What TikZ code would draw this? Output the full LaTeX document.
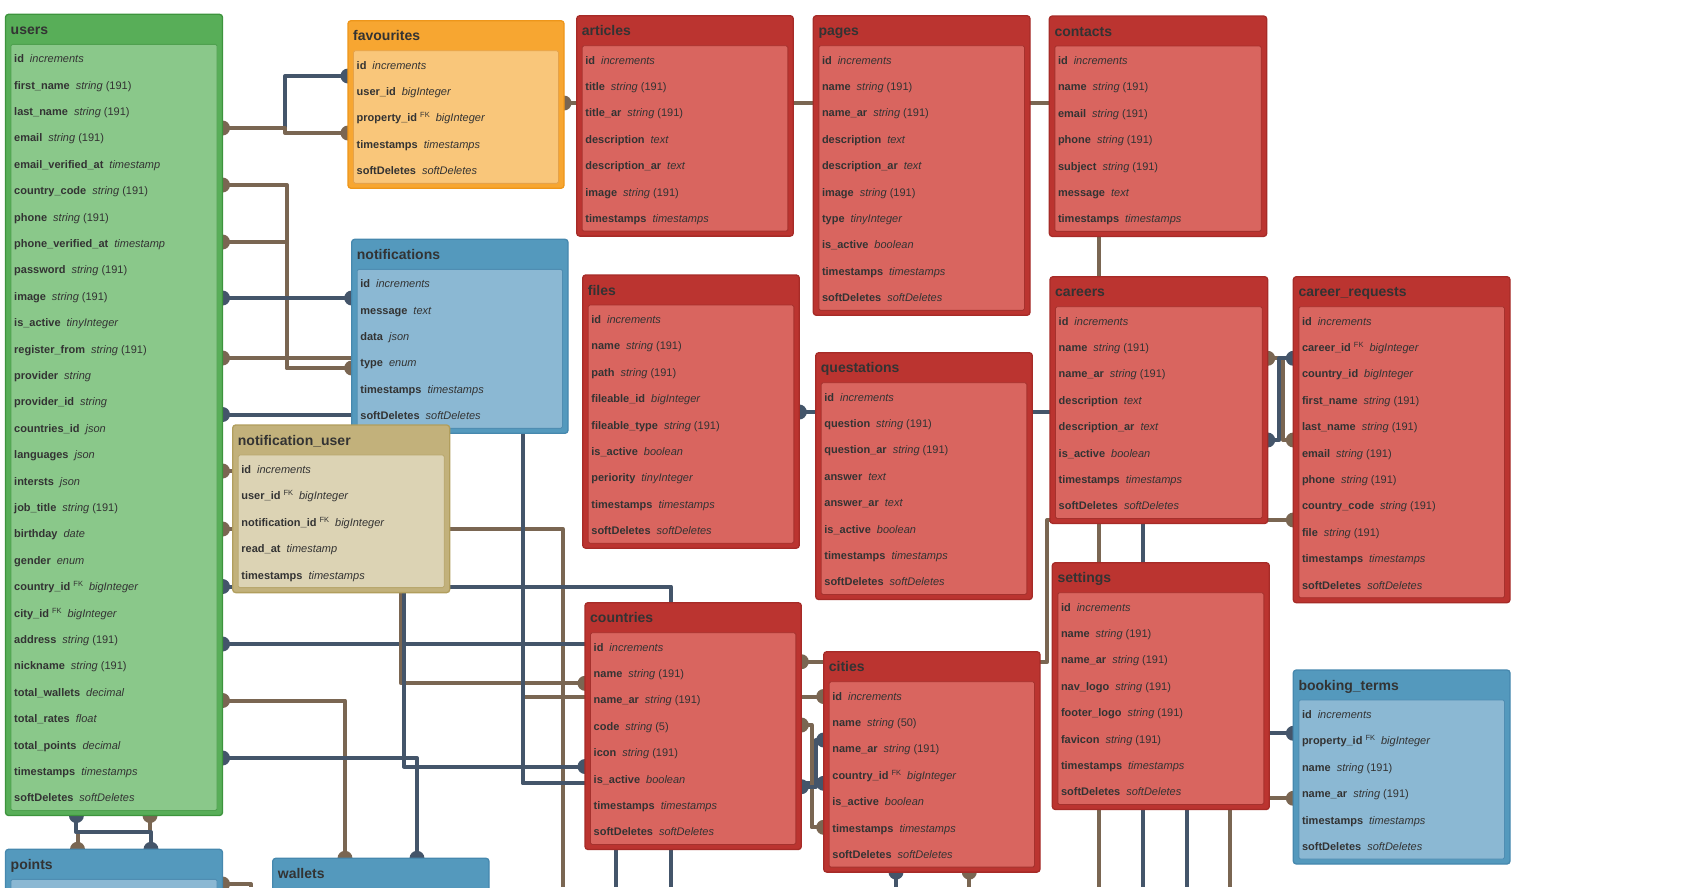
\documentclass[tikz,border=0pt]{standalone}
\usepackage{fontspec}
\setmainfont{Liberation Sans}
\definecolor{txt}{HTML}{333333}
\definecolor{brn}{HTML}{7A6652}
\definecolor{slt}{HTML}{44556A}
\definecolor{grnH}{HTML}{58AE58}\definecolor{grnB}{HTML}{3D943D}\definecolor{grnI}{HTML}{8AC88A}\definecolor{grnIB}{HTML}{4FA04F}
\definecolor{orgH}{HTML}{F7A631}\definecolor{orgB}{HTML}{EE961A}\definecolor{orgI}{HTML}{F9C67A}\definecolor{orgIB}{HTML}{E5A24A}
\definecolor{redH}{HTML}{BB3430}\definecolor{redB}{HTML}{A62B27}\definecolor{redI}{HTML}{D9655F}\definecolor{redIB}{HTML}{A5312D}
\definecolor{bluH}{HTML}{5499BD}\definecolor{bluB}{HTML}{4688AE}\definecolor{bluI}{HTML}{8BB8D3}\definecolor{bluIB}{HTML}{4F8DB2}
\definecolor{tanH}{HTML}{C2B17B}\definecolor{tanB}{HTML}{B19E5D}\definecolor{tanI}{HTML}{DCD3B4}\definecolor{tanIB}{HTML}{B8A76D}
\pgfdeclarelayer{back}
\pgfdeclarelayer{bg}
\pgfsetlayers{back,bg,main}
\tikzset{
  tbox/.style={draw=#1B, fill=#1H, line width=1.3pt, rounded corners=3pt, anchor=north west, inner sep=0pt, outer sep=0pt},
  ibox/.style={draw=#1IB, fill=#1I, line width=0.9pt, rounded corners=1.5pt, anchor=north west, inner sep=0pt, outer sep=0pt},
  ttl/.style={font=\fontsize{14}{16}\selectfont\bfseries, text=txt, inner sep=0pt, anchor=base west},
  fld/.style={font=\fontsize{11}{13}\selectfont, text=txt, inner sep=0pt, anchor=base west},
  brl/.style={draw=brn, line width=4pt, line join=round},
  sll/.style={draw=slt, line width=4pt, line join=round},
}
\newcommand{\fl}[3]{\textbf{#1}\hspace{6pt}\textit{#2}#3}
\newcommand{\fs}[1]{\textbf{#1}\hspace{6pt}\textit{string} (191)}
\newcommand{\fk}[2]{\textbf{#1}\hspace{3pt}\raisebox{4pt}{\fontsize{7.5}{8}\selectfont FK}\hspace{6pt}\textit{#2}}
\newcommand{\bdot}[1]{\fill[brn] #1 circle (7.5pt);}
\newcommand{\sdot}[1]{\fill[slt] #1 circle (7.5pt);}
\newcommand{\ertbl}[8]{%
  \pgfmathsetmacro{\tH}{62+(#6-1)*26.4}%
  \pgfmathsetmacro{\iH}{\tH-35}%
  \pgfmathsetmacro{\iW}{#5-11}%
  \node[tbox=#2, minimum width=#5pt, minimum height=\tH pt] (#1) at (#3,#4) {};
  \node[ibox=#2, minimum width=\iW pt, minimum height=\iH pt] (#1-in) at ({#3+5.5},{#4+30}) {};
  \node[ttl] (#1-title) at ({#3+5},{#4+20}) {#7};
  \foreach \t [count=\i] in {#8} {
    \node[fld] (#1-r\i) at ({#3+8.5},{#4+48.4+(\i-1)*26.4}) {\t};
  }%
}
\newcommand{\ertblh}[6]{%
  \node[tbox=#2, minimum width=#5pt, minimum height=80pt] (#1) at (#3,#4) {};
  \node[ibox=#2, minimum width=#5pt-11pt, minimum height=60pt] (#1-in) at ({#3+5.5},{#4+30}) {};
  \node[ttl] (#1-title) at ({#3+5},{#4+20}) {#6};
}
\begin{document}
\begin{tikzpicture}[x=1pt,y=-1pt]
\useasboundingbox (0,0) rectangle (1687,887);
\begin{pgfonlayer}{back}
\fill[white] (0,0) rectangle (1687,887);
\end{pgfonlayer}

% ---------------- tables ----------------
\ertbl{users}{grn}{5.5}{14.3}{217}{29}{users}{
 {\fl{id}{increments}{}},{\fs{first\_name}},{\fs{last\_name}},{\fs{email}},
 {\fl{email\_verified\_at}{timestamp}{}},{\fs{country\_code}},{\fs{phone}},
 {\fl{phone\_verified\_at}{timestamp}{}},{\fs{password}},{\fs{image}},
 {\fl{is\_active}{tinyInteger}{}},{\fs{register\_from}},{\fl{provider}{string}{}},
 {\fl{provider\_id}{string}{}},{\fl{countries\_id}{json}{}},{\fl{languages}{json}{}},
 {\fl{intersts}{json}{}},{\fs{job\_title}},{\fl{birthday}{date}{}},{\fl{gender}{enum}{}},
 {\fk{country\_id}{bigInteger}},{\fk{city\_id}{bigInteger}},{\fs{address}},{\fs{nickname}},
 {\fl{total\_wallets}{decimal}{}},{\fl{total\_rates}{float}{}},{\fl{total\_points}{decimal}{}},
 {\fl{timestamps}{timestamps}{}},{\fl{softDeletes}{softDeletes}{}}}
\ertbl{favourites}{org}{348}{20.7}{216}{5}{favourites}{
 {\fl{id}{increments}{}},{\fl{user\_id}{bigInteger}{}},{\fk{property\_id}{bigInteger}},
 {\fl{timestamps}{timestamps}{}},{\fl{softDeletes}{softDeletes}{}}}
\ertbl{articles}{red}{576.7}{15.7}{216.6}{7}{articles}{
 {\fl{id}{increments}{}},{\fs{title}},{\fs{title\_ar}},{\fl{description}{text}{}},
 {\fl{description\_ar}{text}{}},{\fs{image}},{\fl{timestamps}{timestamps}{}}}
\ertbl{pages}{red}{813.3}{15.7}{216.7}{10}{pages}{
 {\fl{id}{increments}{}},{\fs{name}},{\fs{name\_ar}},{\fl{description}{text}{}},
 {\fl{description\_ar}{text}{}},{\fs{image}},{\fl{type}{tinyInteger}{}},{\fl{is\_active}{boolean}{}},
 {\fl{timestamps}{timestamps}{}},{\fl{softDeletes}{softDeletes}{}}}
\ertbl{contacts}{red}{1049.3}{16}{217.4}{7}{contacts}{
 {\fl{id}{increments}{}},{\fs{name}},{\fs{email}},{\fs{phone}},{\fs{subject}},
 {\fl{message}{text}{}},{\fl{timestamps}{timestamps}{}}}
\ertbl{notifications}{blu}{351.7}{239.3}{216.3}{6}{notifications}{
 {\fl{id}{increments}{}},{\fl{message}{text}{}},{\fl{data}{json}{}},{\fl{type}{enum}{}},
 {\fl{timestamps}{timestamps}{}},{\fl{softDeletes}{softDeletes}{}}}
\ertbl{files}{red}{582.7}{275}{216.6}{9}{files}{
 {\fl{id}{increments}{}},{\fs{name}},{\fs{path}},{\fl{fileable\_id}{bigInteger}{}},
 {\fs{fileable\_type}},{\fl{is\_active}{boolean}{}},{\fl{periority}{tinyInteger}{}},
 {\fl{timestamps}{timestamps}{}},{\fl{softDeletes}{softDeletes}{}}}
\ertbl{questations}{red}{815.7}{352.7}{216.6}{8}{questations}{
 {\fl{id}{increments}{}},{\fs{question}},{\fs{question\_ar}},{\fl{answer}{text}{}},
 {\fl{answer\_ar}{text}{}},{\fl{is\_active}{boolean}{}},
 {\fl{timestamps}{timestamps}{}},{\fl{softDeletes}{softDeletes}{}}}
\ertbl{careers}{red}{1050}{276.7}{217.7}{8}{careers}{
 {\fl{id}{increments}{}},{\fs{name}},{\fs{name\_ar}},{\fl{description}{text}{}},
 {\fl{description\_ar}{text}{}},{\fl{is\_active}{boolean}{}},
 {\fl{timestamps}{timestamps}{}},{\fl{softDeletes}{softDeletes}{}}}
\ertbl{creq}{red}{1293.3}{276.7}{216.7}{11}{career\_requests}{
 {\fl{id}{increments}{}},{\fk{career\_id}{bigInteger}},{\fl{country\_id}{bigInteger}{}},
 {\fs{first\_name}},{\fs{last\_name}},{\fs{email}},{\fs{phone}},{\fs{country\_code}},{\fs{file}},
 {\fl{timestamps}{timestamps}{}},{\fl{softDeletes}{softDeletes}{}}}
\ertbl{nuser}{tan}{232.7}{425}{217}{5}{notification\_user}{
 {\fl{id}{increments}{}},{\fk{user\_id}{bigInteger}},{\fk{notification\_id}{bigInteger}},
 {\fl{read\_at}{timestamp}{}},{\fl{timestamps}{timestamps}{}}}
\ertbl{settings}{red}{1052.3}{562.7}{217}{8}{settings}{
 {\fl{id}{increments}{}},{\fs{name}},{\fs{name\_ar}},{\fs{nav\_logo}},{\fs{footer\_logo}},
 {\fs{favicon}},{\fl{timestamps}{timestamps}{}},{\fl{softDeletes}{softDeletes}{}}}
\ertbl{countries}{red}{585}{602.7}{216.3}{8}{countries}{
 {\fl{id}{increments}{}},{\fs{name}},{\fs{name\_ar}},{\fl{code}{string}{ (5)}},{\fs{icon}},
 {\fl{is\_active}{boolean}{}},{\fl{timestamps}{timestamps}{}},{\fl{softDeletes}{softDeletes}{}}}
\ertbl{cities}{red}{823.7}{651.7}{216.3}{7}{cities}{
 {\fl{id}{increments}{}},{\fl{name}{string}{ (50)}},{\fs{name\_ar}},{\fk{country\_id}{bigInteger}},
 {\fl{is\_active}{boolean}{}},{\fl{timestamps}{timestamps}{}},{\fl{softDeletes}{softDeletes}{}}}
\ertbl{bterms}{blu}{1293.3}{670}{216.7}{6}{booking\_terms}{
 {\fl{id}{increments}{}},{\fk{property\_id}{bigInteger}},{\fs{name}},{\fs{name\_ar}},
 {\fl{timestamps}{timestamps}{}},{\fl{softDeletes}{softDeletes}{}}}
\ertblh{points}{blu}{5.5}{849.3}{217}{points}
\ertblh{wallets}{blu}{272.7}{858.3}{216.3}{wallets}

% ---------------- connectors ----------------
\begin{pgfonlayer}{bg}
\draw[sll] (users.east |- 0,128) -- (285,128) -- (285,76) -- (favourites.west |- 0,76);
\draw[brl] (users.east |- 0,128) -- (285,128) -- (285,133) -- (favourites.west |- 0,133);
\draw[brl] (users.east |- 0,242) -- (287,242) -- (287,368) -- (notifications.west |- 0,368);
\draw[brl] (users.east |- 0,185) -- (287,185) -- (287,368) -- (notifications.west |- 0,368);
\draw[sll] (users.east |- 0,298) -- (notifications.west |- 0,298);
\draw[brl] (users.east |- 0,358) -- (notifications.west |- 0,358);
\draw[sll] (users.east |- 0,414.5) -- (notifications.west |- 0,414.5);
\draw[brl] (users.east |- 0,471) -- (nuser.west |- 0,471);
\draw[brl] (users.east |- 0,529) -- (562.7,529) -- (562.7,887);
\draw[sll] (users.east |- 0,586.5) -- (671,586.5) -- (671,887);
\draw[sll] (users.east |- 0,644) -- (616,644) -- (616,887);
\draw[brl] (users.east |- 0,700.5) -- (345,700.5) -- (345,0 |- wallets.north);
\draw[sll] (users.east |- 0,758) -- (417,758) -- (417,0 |- wallets.north);
\draw[brl] (401,0 |- nuser.south) -- (401,683.3) -- (countries.west |- 0,683.3);
\draw[sll] (404,0 |- nuser.south) -- (404,766.5) -- (countries.west |- 0,766.5);
\draw[brl] (523,0 |- notifications.south) -- (523,696.5) -- (cities.west |- 0,696.5);
\draw[sll] (522.7,0 |- notifications.south) -- (522.7,783.3) -- (cities.west |- 0,783.3);
\draw[brl] (countries.east |- 0,661.7) -- (1047.3,661.7) -- (1047.3,520) -- (creq.west |- 0,520);
\draw[brl] (countries.east |- 0,725) -- (811.5,725) -- (811.5,827.3) -- (cities.west |- 0,827.3);
\draw[sll] (countries.east |- 0,786.7) -- (815.5,786.7) -- (815.5,740) -- (cities.west |- 0,740);
\draw[sll] (896,0 |- cities.south) -- (896,887);
\draw[brl] (969.3,0 |- cities.south) -- (969.3,887);
\draw[sll] (files.east |- 0,412) -- (1142.7,412) -- (1142.7,887);
\draw[brl] (favourites.east |- 0,103) -- (1099.3,103) -- (1099.3,887);
\draw[sll] (bterms.west |- 0,733.3) -- (1186.7,733.3) -- (1186.7,887);
\draw[brl] (bterms.west |- 0,798.3) -- (1230,798.3) -- (1230,887);
\draw[brl] (careers.east |- 0,358.3) -- (1283,358.3) -- (1283,440) -- (creq.west |- 0,440);
\draw[sll] (careers.east |- 0,440) -- (1279.3,440) -- (1279.3,358.3) -- (creq.west |- 0,358.3);
\draw[brl] (150,0 |- users.south) -- (150,832.3) -- (77.5,832.3) -- (77.5,0 |- points.north);
\draw[sll] (76.4,0 |- users.south) -- (76.4,832.3) -- (151,832.3) -- (151,0 |- points.north);
\draw[brl] (points.east |- 0,884) -- (251,884) -- (251,887);
% dots
\sdot{(favourites.west |- 0,76)}
\bdot{(users.east |- 0,128)} \bdot{(favourites.west |- 0,133)}
\bdot{(users.east |- 0,185)} \bdot{(users.east |- 0,242)} \bdot{(notifications.west |- 0,368)}
\sdot{(users.east |- 0,298)} \sdot{(notifications.west |- 0,298)}
\bdot{(users.east |- 0,358)}
\sdot{(users.east |- 0,414.5)}
\bdot{(users.east |- 0,471)}
\bdot{(users.east |- 0,529)}
\sdot{(users.east |- 0,586.5)}
\sdot{(users.east |- 0,644)}
\bdot{(users.east |- 0,700.5)} \bdot{(345,0 |- wallets.north)}
\sdot{(users.east |- 0,758)} \sdot{(417,0 |- wallets.north)}
\bdot{(countries.west |- 0,683.3)}
\sdot{(countries.west |- 0,766.5)}
\bdot{(cities.west |- 0,696.5)}
\sdot{(cities.west |- 0,783.3)}
\bdot{(countries.east |- 0,661.7)} \bdot{(creq.west |- 0,520)}
\bdot{(countries.east |- 0,725)} \bdot{(cities.west |- 0,827.3)}
\sdot{(countries.east |- 0,786.7)} \sdot{(cities.west |- 0,740)}
\sdot{(896,0 |- cities.south)} \bdot{(969.3,0 |- cities.south)}
\sdot{(files.east |- 0,412)}
\bdot{(favourites.east |- 0,103)}
\sdot{(bterms.west |- 0,733.3)} \bdot{(bterms.west |- 0,798.3)}
\bdot{(careers.east |- 0,358.3)} \bdot{(creq.west |- 0,440)}
\sdot{(careers.east |- 0,440)} \sdot{(creq.west |- 0,358.3)}
\bdot{(150,0 |- users.south)} \bdot{(77.5,0 |- points.north)}
\sdot{(76.4,0 |- users.south)} \sdot{(151,0 |- points.north)}
\bdot{(points.east |- 0,884)}
\end{pgfonlayer}
\end{tikzpicture}
\end{document}
